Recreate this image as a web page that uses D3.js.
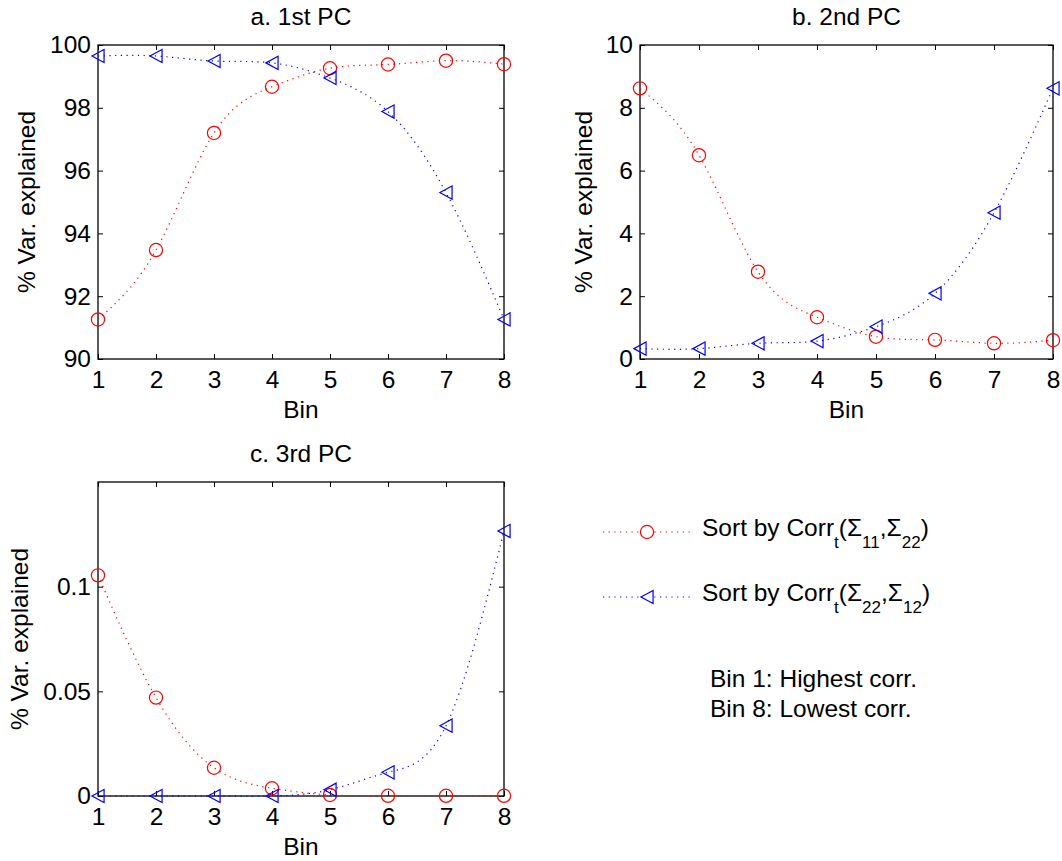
<!DOCTYPE html>
<html><head><meta charset="utf-8">
<script src="https://cdn.jsdelivr.net/npm/d3@7"></script>
<style>
body{margin:0;background:#fff;}
text{font-family:"Liberation Sans",Arial,Helvetica,sans-serif;fill:#000;}
</style></head>
<body><svg id="c" width="1062" height="861"></svg>
<script>
const bins = [1,2,3,4,5,6,7,8];
const xTicks = [1,2,3,4,5,6,7,8];

const pc1Red  = [91.26, 93.47, 97.2, 98.67, 99.26, 99.38, 99.5, 99.39];
const pc1Blue = [99.65, 99.65, 99.49, 99.43, 98.95, 97.88, 95.3, 91.26];
const pc2Red  = [8.62, 6.49, 2.78, 1.33, 0.71, 0.61, 0.5, 0.6];
const pc2Blue = [0.33, 0.33, 0.5, 0.57, 1.03, 2.09, 4.66, 8.62];
const pc3Red  = [0.1054, 0.047, 0.0135, 0.0037, 0.0005, 0.0001, 0.0001, 0.0001];
const pc3Blue = [0, 0, 0, 0, 0.003, 0.0113, 0.0336, 0.1266];

const yTicks1 = [90, 92, 94, 96, 98, 100];
const yTicks2 = [0, 2, 4, 6, 8, 10];
const yTicks3 = [0, 0.05, 0.1];

const titles = ["a. 1st PC", "b. 2nd PC", "c. 3rd PC"];
const yLabel = "% Var. explained";
const xLabel = "Bin";

const RED = "#ff0000", BLUE = "#0000ff";
const FS = 24.5;
const svg = d3.select("#c");

const panels = [
  {title: titles[0], red: pc1Red, blue: pc1Blue, domain: [90, 100], ticks: yTicks1,
   box: {x0: 98, x1: 504, y0: 45, y1: 359}, ylx: 35},
  {title: titles[1], red: pc2Red, blue: pc2Blue, domain: [0, 10], ticks: yTicks2,
   box: {x0: 640, x1: 1053, y0: 45, y1: 359}, ylx: 592},
  {title: titles[2], red: pc3Red, blue: pc3Blue, domain: [0, 0.15], ticks: yTicks3,
   box: {x0: 98, x1: 504, y0: 482, y1: 796}, ylx: 28}
];

function triPath(s){ // left-pointing triangle
  return `M${-s*0.92},0 L${s*0.92},${-s} L${s*0.92},${s} Z`;
}

panels.forEach(p => {
  const b = p.box;
  const x = d3.scaleLinear().domain([1, 8]).range([b.x0, b.x1]);
  const y = d3.scaleLinear().domain(p.domain).range([b.y1, b.y0]);
  const g = svg.append("g");

  const tl = 5;
  const bottom = g.append("g").attr("transform", `translate(0,${b.y1})`)
    .call(d3.axisBottom(x).tickValues(xTicks).tickSizeInner(-tl).tickSizeOuter(0).tickFormat(d3.format("d")));
  const top = g.append("g").attr("transform", `translate(0,${b.y0})`)
    .call(d3.axisTop(x).tickValues(xTicks).tickSizeInner(-tl).tickSizeOuter(0).tickFormat(""));
  const left = g.append("g").attr("transform", `translate(${b.x0},0)`)
    .call(d3.axisLeft(y).tickValues(p.ticks).tickSizeInner(-tl).tickSizeOuter(0).tickPadding(7).tickFormat(d => String(+d.toFixed(4))));
  const right = g.append("g").attr("transform", `translate(${b.x1},0)`)
    .call(d3.axisRight(y).tickValues(p.ticks).tickSizeInner(-tl).tickSizeOuter(0).tickFormat(""));
  [bottom, top, left, right].forEach(a => {
    a.selectAll(".domain").remove();
    a.selectAll("line").attr("stroke", "#000").attr("stroke-width", 1);
    a.selectAll("text").attr("font-size", FS).attr("font-family", '"Liberation Sans",Arial,sans-serif').attr("fill", "#000");
  });
  bottom.selectAll("text").attr("dy", null).attr("y", 29);
  g.append("rect").attr("x", b.x0).attr("y", b.y0).attr("width", b.x1 - b.x0).attr("height", b.y1 - b.y0)
    .attr("fill", "none").attr("stroke", "#000").attr("stroke-width", 1.3);

  g.append("text").attr("x", (b.x0 + b.x1) / 2).attr("y", b.y0 - 20).attr("text-anchor", "middle")
    .attr("font-size", FS).text(p.title);
  g.append("text").attr("transform", `translate(${p.ylx},${(b.y0 + b.y1) / 2}) rotate(-90)`)
    .attr("text-anchor", "middle").attr("font-size", FS).text(yLabel);
  g.append("text").attr("x", (b.x0 + b.x1) / 2).attr("y", b.y1 + 59).attr("text-anchor", "middle")
    .attr("font-size", FS).text(xLabel);

  const line = d3.line().x((d, i) => x(bins[i])).y(d => y(d)).curve(d3.curveNatural);
  [[p.red, RED], [p.blue, BLUE]].forEach(([vals, col]) => {
    g.append("path").attr("d", line(vals)).attr("fill", "none").attr("stroke", col)
      .attr("stroke-width", 1.2).attr("stroke-dasharray", "1.2,4.5");
  });
  g.selectAll(".circ").data(p.red).enter().append("circle")
    .attr("cx", (d, i) => x(bins[i])).attr("cy", d => y(d)).attr("r", 6.6)
    .attr("fill", "none").attr("stroke", RED).attr("stroke-width", 1.2);
  g.selectAll(".tri").data(p.blue).enter().append("path")
    .attr("transform", (d, i) => `translate(${x(bins[i])},${y(d)})`).attr("d", triPath(6.6))
    .attr("fill", "none").attr("stroke", BLUE).attr("stroke-width", 1.2);
});

// legend
const leg = svg.append("g");
const legendItems = [
  {col: RED, marker: "circle", y: 532, a: "11", b: "22"},
  {col: BLUE, marker: "tri", y: 597, a: "22", b: "12"}
];
const SUB = 17, SD = 12;
legendItems.forEach(it => {
  leg.append("line").attr("x1", 603).attr("x2", 692).attr("y1", it.y).attr("y2", it.y)
    .attr("stroke", it.col).attr("stroke-width", 1.2).attr("stroke-dasharray", "1.2,4.5");
  if (it.marker === "circle") {
    leg.append("circle").attr("cx", 647).attr("cy", it.y).attr("r", 6.6).attr("fill", "#fff").attr("stroke", it.col).attr("stroke-width", 1.2);
  } else {
    leg.append("path").attr("transform", `translate(647,${it.y})`).attr("d", triPath(6.6)).attr("fill", "#fff").attr("stroke", it.col).attr("stroke-width", 1.2);
  }
  const t = leg.append("text").attr("x", 702).attr("y", it.y + 4).attr("font-size", FS);
  t.append("tspan").text("Sort by Corr");
  t.append("tspan").attr("font-size", SUB).attr("dy", SD).text("t");
  t.append("tspan").attr("dy", -SD).text("(Σ");
  t.append("tspan").attr("font-size", SUB).attr("dy", SD).text(it.a);
  t.append("tspan").attr("dy", -SD).text(",Σ");
  t.append("tspan").attr("font-size", SUB).attr("dy", SD).text(it.b);
  t.append("tspan").attr("dy", -SD).text(")");
});
leg.append("text").attr("x", 710).attr("y", 687).attr("font-size", FS).text("Bin 1: Highest corr.");
leg.append("text").attr("x", 710).attr("y", 717).attr("font-size", FS).text("Bin 8: Lowest corr.");
</script></body></html>
